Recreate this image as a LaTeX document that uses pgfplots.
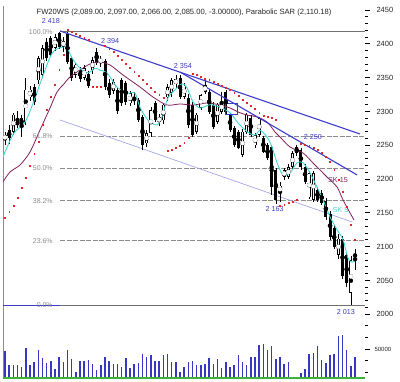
\documentclass[border=0pt]{standalone}
\usepackage{pgfplots}
\pgfplotsset{compat=1.18}
\usepackage{pgfplotstable}
\usepackage{fontspec}
\setmainfont{Liberation Sans}
\definecolor{volblue}{RGB}{55,55,195}
\definecolor{trendblue}{RGB}{60,60,205}
\definecolor{lav}{RGB}{165,165,230}
\definecolor{skcyan}{RGB}{64,214,208}
\definecolor{skpurple}{RGB}{130,30,90}
\definecolor{sarred}{RGB}{225,40,40}
\definecolor{fibgray}{RGB}{140,140,140}
\definecolor{labblue}{RGB}{60,60,200}
\definecolor{volgreen}{RGB}{60,180,60}

\pgfplotstableread{
i O H L C
1 2258 2270 2250 2265
2 2272 2280 2252 2261
3 2270 2298 2265 2295
4 2285 2300 2275 2280
5 2290 2295 2262 2280
6 2284 2349 2280 2332
7 2321 2338 2316 2332
8 2336 2340 2310 2314
9 2346 2382 2340 2379
10 2354 2398 2350 2394
11 2403 2408 2375 2379
12 2409 2412 2380 2384
13 2394 2415 2390 2410
14 2416 2418 2392 2395
15 2396 2410 2388 2404
16 2415 2417 2370 2373
17 2379 2382 2345 2349
18 2354 2372 2350 2369
19 2362 2366 2344 2348
20 2350 2368 2346 2364
21 2356 2360 2334 2338
22 2361 2380 2356 2376
23 2388 2394 2368 2372
24 2372 2382 2366 2378
25 2374 2378 2332 2336
26 2342 2348 2320 2324
27 2330 2348 2326 2344
28 2332 2335 2296 2300
29 2346 2350 2308 2312
30 2342 2345 2310 2314
31 2312 2330 2308 2327
32 2320 2328 2310 2316
33 2317 2320 2284 2287
34 2292 2295 2243 2250
35 2253 2272 2248 2268
36 2268 2306 2262 2302
37 2312 2316 2284 2287
38 2284 2296 2278 2292
39 2287 2312 2282 2310
40 2321 2340 2316 2336
41 2327 2350 2322 2346
42 2340 2354 2334 2348
43 2350 2354 2318 2322
44 2322 2342 2318 2338
45 2320 2326 2276 2280
46 2310 2314 2262 2265
47 2270 2298 2266 2295
48 2305 2326 2302 2324
49 2329 2346 2326 2339
50 2329 2332 2296 2299
51 2310 2314 2274 2277
52 2285 2312 2282 2310
53 2299 2329 2296 2314
54 2329 2332 2296 2299
55 2295 2298 2270 2272
56 2275 2278 2248 2250
57 2270 2273 2244 2246
58 2236 2274 2232 2270
59 2270 2298 2266 2295
60 2290 2294 2262 2265
61 2250 2268 2246 2265
62 2265 2292 2262 2290
63 2261 2264 2238 2240
64 2250 2254 2228 2231
65 2247 2250 2176 2188
66 2213 2216 2163 2169
67 2180 2196 2166 2190
68 2203 2216 2198 2213
69 2203 2222 2200 2218
70 2218 2242 2214 2238
71 2248 2250 2234 2238
72 2243 2246 2214 2218
73 2218 2222 2192 2196
74 2173 2212 2170 2209
75 2169 2212 2166 2209
76 2184 2188 2166 2169
77 2180 2184 2162 2165
78 2168 2172 2140 2144
79 2148 2152 2110 2114
80 2128 2132 2096 2100
81 2088 2118 2082 2112
82 2112 2116 2052 2056
83 2088 2092 2040 2046
84 2032 2086 2013 2080
85 2089 2097 2066 2085
}\candles

\pgfplotstableread{
i P
1 2142.4
2 2151.3
3 2160.1
4 2172.0
5 2186.7
6 2201.5
7 2219.3
8 2237.0
9 2254.8
10 2279.9
11 2302.1
12 2321.3
13 2339.1
14 2361.3
15 2383.5
16 2420.4
17 2417.5
18 2414.5
19 2411.6
20 2408.6
21 2405.6
22 2336.1
23 2336.1
24 2336.1
25 2396.8
26 2392.3
27 2387.9
28 2382.0
29 2376.1
30 2370.1
31 2364.2
32 2358.3
33 2352.4
34 2346.5
35 2340.6
36 2334.7
37 2328.7
38 2324.3
39 2319.9
40 2241.5
41 2243.0
42 2245.9
43 2248.9
44 2253.3
45 2260.7
46 2355.4
47 2353.9
48 2350.9
49 2348.0
50 2346.5
51 2343.5
52 2340.6
53 2337.6
54 2334.7
55 2331.7
56 2327.3
57 2322.8
58 2316.9
59 2312.5
60 2308.0
61 2303.6
62 2297.7
63 2293.2
64 2291.8
65 2290.3
66 2287.3
67 2160.1
68 2161.6
69 2164.6
70 2166.0
71 2169.0
72 2251.8
73 2250.3
74 2248.9
75 2245.9
76 2243.0
77 2238.5
78 2232.6
79 2225.2
80 2213.4
81 2198.6
82 2180.8
83 2158.5
84 2132.0
85 2109.8
}\sar

\pgfplotstableread{
i V
1 46000
2 22000
3 22000
4 22000
5 20000
6 52000
7 23000
8 27000
9 49000
10 34000
11 26000
12 30000
13 16000
14 37000
15 28000
16 48000
17 33000
18 11000
19 29000
20 30000
21 32000
22 25000
23 14000
24 22000
25 36000
26 30000
27 25000
28 25000
29 20000
30 34000
31 17000
32 24000
33 26000
34 42000
35 36000
36 40000
37 29000
38 30000
39 39000
40 42000
41 28000
42 28000
43 11000
44 19000
45 28000
46 29000
47 22000
48 23000
49 24000
50 34000
51 24000
52 33000
53 17000
54 27000
55 20000
56 22000
57 39000
58 28000
59 23000
60 36000
61 37000
62 57000
63 59000
64 49000
65 55000
66 33000
67 37000
68 24000
69 27000
70 2000
71 3000
72 9000
73 16000
74 42000
75 43000
76 55000
77 32000
78 26000
79 40000
80 42000
81 72000
82 74000
83 48000
84 21000
85 37000
}\vol

\begin{document}
\begin{tikzpicture}
\useasboundingbox (0,0) rectangle (400pt,382pt);
\begin{axis}[
  at={(3pt,60pt)}, anchor=south west,
  width=362pt, height=319pt, scale only axis,
  xmin=0.52, xmax=87.39, ymin=1988.5, ymax=2460.4,
  axis x line=none,
  axis y line*=right,
  y axis line style={draw=none},
  ytick={2000,2050,...,2450},
  minor y tick num=4,
  tick align=outside,
  major tick length=5pt, minor tick length=2.5pt,
  every tick/.style={black, line width=0.9pt},
  yticklabel style={font=\fontsize{7.5}{9}\selectfont, text=black!85, xshift=3pt},
  /pgf/number format/1000 sep={},
  /pgf/number format/assume math mode=true,
]
% left frame
\draw[fibgray, line width=0.8pt] (rel axis cs:0,0) -- (rel axis cs:0,0.9905);
% Fibonacci levels
\addplot[fibgray!80!black, line width=0.8pt] coordinates {(14.2,2418) (87.39,2418)};
\addplot[fibgray, line width=1.2pt, dash pattern=on 5pt off 1.5pt] coordinates {(14.2,2263.3) (87.39,2263.3)};
\addplot[fibgray, line width=1.2pt, dash pattern=on 5pt off 1.5pt] coordinates {(14.2,2215.5) (87.39,2215.5)};
\addplot[fibgray, line width=1.2pt, dash pattern=on 5pt off 1.5pt] coordinates {(14.2,2167.7) (87.39,2167.7)};
\addplot[fibgray, line width=1.2pt, dash pattern=on 5pt off 1.5pt] coordinates {(14.2,2108.6) (87.39,2108.6)};
\addplot[fibgray!80!black, line width=0.8pt] coordinates {(14.2,2013) (87.39,2013)};
\addplot[trendblue, line width=1.1pt] coordinates {(0.52,2013) (14.2,2013)};
% thin channel line
\addplot[lav, line width=0.7pt] coordinates {(14.2,2287.3) (84.3,2136.5)};
% candles: wicks
\addplot[black, only marks, mark=none,
  error bars/.cd, y dir=both, y explicit, error mark=none,
  error bar style={black, line width=0.7pt}]
  table[x=i, y expr={(\thisrow{H}+\thisrow{L})/2}, y error expr={(\thisrow{H}-\thisrow{L})/2}] {\candles};
% candles: bodies
\addplot[black, only marks, mark=none,
  error bars/.cd, y dir=both, y explicit, error mark=none,
  error bar style={black, line width=3pt}]
  table[x=i, y expr={(\thisrow{O}+\thisrow{C})/2}, y error expr={max(abs(\thisrow{C}-\thisrow{O})/2,0.6)}] {\candles};
\addplot[white, only marks, mark=none,
  x filter/.expression={\thisrow{C}>\thisrow{O}+2.2 ? x : nan},
  error bars/.cd, y dir=both, y explicit, error mark=none,
  error bar style={white, line width=1.6pt}]
  table[x=i, y expr={(\thisrow{O}+\thisrow{C})/2}, y error expr={(\thisrow{C}-\thisrow{O})/2-1.0}] {\candles};
% moving averages
\addplot[skpurple, line width=0.8pt, smooth] coordinates {
(0.52,2195.6) (2.2,2210.4) (4.6,2220.8) (7.0,2240.0) (9.4,2272.5) (11.8,2305.1) (13.48,2328.7) (14.92,2339.1) (16.6,2350.9) (19.0,2361.3) (21.4,2370.1) (23.8,2373.1) (26.2,2368.7) (29.32,2353.9) (33.4,2336.1) (36.52,2321.3) (39.88,2309.5) (43.0,2311.0) (46.12,2309.5) (49.48,2312.5) (52.6,2309.5) (55.0,2305.1) (56.92,2299.2) (59.08,2294.7) (61.48,2291.8) (63.88,2284.4) (65.8,2269.6) (67.0,2262.2) (69.4,2247.4) (72.52,2238.5) (74.92,2223.7) (76.6,2213.4) (78.52,2201.5) (80.68,2188.2) (82.12,2169.0) (83.8,2149.8) (84.76,2139.4)};
\addplot[skcyan, line width=0.9pt, smooth] coordinates {
(0.52,2232) (1,2240) (3.16,2268) (5.8,2284) (7.72,2312) (9.88,2349) (11.8,2380) (13.0,2391) (14.68,2395) (15.88,2395) (17.08,2379) (19.0,2364) (20.92,2357) (22.6,2364) (23.8,2361) (25.48,2357) (27.88,2336) (30.28,2327) (32.2,2327) (33.4,2306) (35.32,2287) (37.48,2280) (38.68,2292) (40.12,2320) (42.28,2335) (43.48,2341) (44.68,2335) (46.12,2314) (47.8,2305) (50.2,2310) (52.6,2306) (55.0,2298) (56.92,2283) (59.08,2270) (61.0,2265) (62.2,2272) (63.88,2262) (65.08,2247) (66.28,2224) (67.72,2206) (69.4,2209) (71.08,2224) (72.52,2224) (74.2,2209) (75.88,2188) (77.32,2169) (79.0,2144) (80.68,2125) (82.12,2110) (83.32,2083) (84.28,2077) (85.24,2080)};
% trend lines
\addplot[trendblue, line width=1.1pt] coordinates {(14.2,2419.0) (86.2,2266.6)};
\addplot[trendblue, line width=1.1pt] coordinates {(43.0,2358.3) (85.5,2206.0)};
\addplot[trendblue, line width=0.9pt] coordinates {(53.8,2312.5) (56.9,2312.5) (56.9,2296.2) (53.8,2296.2) (53.8,2312.5)};
% parabolic SAR
\addplot[sarred, only marks, mark=square*, mark size=0.42pt, mark options={fill=sarred, draw=none}] table[x=i, y=P] {\sar};
% labels
\node[font=\fontsize{7.6}{9}\selectfont, text=black!85] at (axis cs:43.96,2445.6) {FW20WS (2,089.00, 2,097.00, 2,066.00, 2,085.00, -3.00000), Parabolic SAR (2,110.18)};
\begin{scope}[every node/.style={anchor=east, inner sep=0pt, text=fibgray, font=\fontsize{7}{8}\selectfont}]
\node at (axis cs:12.5,2418) {100.0\%};
\node at (axis cs:12.5,2263.3) {61.8\%};
\node at (axis cs:12.5,2215.5) {50.0\%};
\node at (axis cs:12.5,2167.7) {38.2\%};
\node at (axis cs:12.5,2108.6) {23.6\%};
\node at (axis cs:12.5,2013) {0.0\%};
\end{scope}
\begin{scope}[every node/.style={inner sep=0pt, text=labblue, font=\fontsize{7.2}{8}\selectfont}]
\node at (axis cs:12.0,2433.7) {2 418};
\node at (axis cs:26.2,2404.2) {2 394};
\node at (axis cs:43.7,2367.2) {2 354};
\node at (axis cs:74.9,2262.2) {2 250};
\node at (axis cs:65.7,2155.7) {2 163};
\node at (axis cs:82.8,2003.4) {2 013};
\end{scope}
\node[inner sep=0pt, text=skpurple, font=\fontsize{7.2}{8}\selectfont] at (axis cs:80.9,2198.6) {SK 15};
\node[inner sep=0pt, text=skcyan, font=\fontsize{7.2}{8}\selectfont] at (axis cs:81.5,2154.2) {SK 5};
\end{axis}

\begin{axis}[
  at={(3pt,0pt)}, anchor=south west,
  width=362pt, height=60pt, scale only axis,
  xmin=0.52, xmax=87.39, ymin=-6314, ymax=96075,
  axis x line=none,
  axis y line*=right,
  y axis line style={draw=none},
  ytick={50000}, minor ytick={10000,30000,70000,90000},
  tick align=outside,
  major tick length=5pt, minor tick length=2.5pt,
  every tick/.style={black, line width=0.9pt},
  scaled y ticks=false,
  yticklabel style={font=\fontsize{6}{7}\selectfont, text=black!85, xshift=1pt},
  /pgf/number format/1000 sep={},
  /pgf/number format/assume math mode=true,
]
\draw[fibgray, line width=0.8pt] (rel axis cs:0,0.06) -- (rel axis cs:0,1);
\addplot[ycomb, volblue, line width=1.5pt] table[x=i, y=V] {\vol};
\addplot[volgreen, line width=1.6pt] coordinates {(0.52,0) (87.39,0)};
\end{axis}
\end{tikzpicture}
\end{document}
